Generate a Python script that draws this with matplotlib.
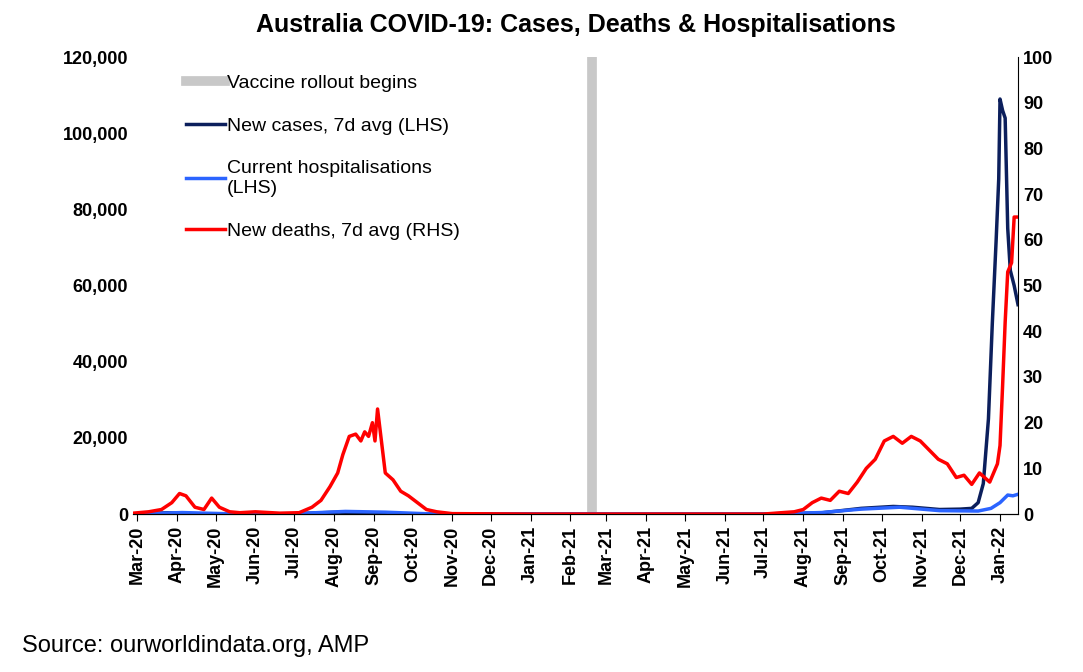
import numpy as np
import pandas as pd
import matplotlib.pyplot as plt
import matplotlib.dates as mdates

plt.rcParams['font.family'] = ['Liberation Sans', 'DejaVu Sans']

# new deaths, 7d avg (RHS)
death_dates = ['2020-02-27', '2020-03-10', '2020-03-20', '2020-03-28', '2020-04-03', '2020-04-08',
               '2020-04-15', '2020-04-22', '2020-04-28', '2020-05-04', '2020-05-12', '2020-05-20',
               '2020-06-01', '2020-06-20', '2020-07-05', '2020-07-15', '2020-07-22', '2020-07-29',
               '2020-08-04', '2020-08-08', '2020-08-13', '2020-08-18', '2020-08-22', '2020-08-25',
               '2020-08-28', '2020-08-31', '2020-09-02', '2020-09-04', '2020-09-07', '2020-09-10',
               '2020-09-16', '2020-09-22', '2020-09-28', '2020-10-05', '2020-10-12', '2020-10-20',
               '2020-11-01', '2021-01-01', '2021-04-01', '2021-07-01', '2021-07-15', '2021-07-25',
               '2021-08-01', '2021-08-08', '2021-08-15', '2021-08-22', '2021-08-29', '2021-09-05',
               '2021-09-12', '2021-09-19', '2021-09-26', '2021-10-03', '2021-10-10', '2021-10-17',
               '2021-10-24', '2021-10-31', '2021-11-07', '2021-11-14', '2021-11-21', '2021-11-28',
               '2021-12-04', '2021-12-10', '2021-12-16', '2021-12-20', '2021-12-24', '2021-12-27',
               '2021-12-30', '2022-01-01', '2022-01-03', '2022-01-05', '2022-01-07', '2022-01-10',
               '2022-01-12', '2022-01-15']
death_vals = [0.2, 0.5, 1.0, 2.5, 4.5, 4.0, 1.5, 1.0, 3.5, 1.5, 0.5, 0.3,
              0.5, 0.2, 0.3, 1.5, 3.0, 6.0, 9.0, 13.0, 17.0, 17.5, 16.0, 18.0,
              17.0, 20.0, 16.0, 23.0, 16.0, 9.0, 7.5, 5.0, 4.0, 2.5, 1.0, 0.5,
              0.1, 0.0, 0.0, 0.0, 0.3, 0.5, 1.0, 2.5, 3.5, 3.0, 5.0, 4.5,
              7.0, 10.0, 12.0, 16.0, 17.0, 15.5, 17.0, 16.0, 14.0, 12.0, 11.0, 8.0,
              8.5, 6.5, 9.0, 8.0, 7.0, 9.0, 11.0, 15.0, 28.0, 42.0, 53.0, 55.0,
              65.0, 65.0]

# new cases, 7d avg (LHS)
case_dates = ['2020-02-27', '2020-03-25', '2020-04-15', '2020-07-01', '2020-08-05', '2020-08-25',
              '2020-10-01', '2021-07-01', '2021-08-15', '2021-09-15', '2021-10-10', '2021-10-25',
              '2021-11-15', '2021-12-01', '2021-12-10', '2021-12-15', '2021-12-19', '2021-12-23',
              '2021-12-26', '2021-12-29', '2021-12-31', '2022-01-01', '2022-01-03', '2022-01-05',
              '2022-01-07', '2022-01-09', '2022-01-12', '2022-01-15']
case_vals = [0, 350, 50, 100, 500, 300, 20, 10, 300, 1500, 2000, 1800,
             1200, 1300, 1500, 3000, 8000, 25000, 50000, 72000, 88000, 109000, 106000, 104000,
             75000, 64000, 60000, 55000]

# current hospitalisations (LHS)
hosp_dates = ['2020-02-27', '2020-04-05', '2020-05-15', '2020-07-01', '2020-08-10', '2020-09-10',
              '2020-10-15', '2021-07-01', '2021-08-15', '2021-09-15', '2021-10-15', '2021-11-15',
              '2021-12-15', '2021-12-25', '2022-01-01', '2022-01-07', '2022-01-11', '2022-01-15']
hosp_vals = [0, 400, 50, 100, 700, 500, 50, 20, 400, 1300, 1800, 900,
             800, 1500, 3000, 5000, 4800, 5200]

vaccine_date = '2021-02-18'

fig, ax = plt.subplots(figsize=(10.83, 6.72), dpi=100)
ax2 = ax.twinx()

ax.axvline(pd.Timestamp(vaccine_date), color='#c8c8c8', lw=7, label='Vaccine rollout begins')
ax.plot(pd.to_datetime(case_dates), case_vals, color='#0c1f5c', lw=2.5, label='New cases, 7d avg (LHS)')
ax.plot(pd.to_datetime(hosp_dates), hosp_vals, color='#2b64ff', lw=2.5, label='Current hospitalisations\n(LHS)')
ax2.plot(pd.to_datetime(death_dates), death_vals, color='#ff0000', lw=2.5, label='New deaths, 7d avg (RHS)')

ax.set_ylim(0, 120000)
ax2.set_ylim(0, 100)
ax.set_xlim(pd.Timestamp('2020-02-27'), pd.Timestamp('2022-01-15'))
ax.set_yticks(np.arange(0, 120001, 20000))
ax.set_yticklabels([f'{v:,}' for v in range(0, 120001, 20000)])
ax2.set_yticks(np.arange(0, 101, 10))
ax.xaxis.set_major_locator(mdates.MonthLocator())
ax.xaxis.set_major_formatter(mdates.DateFormatter('%b-%y'))
for a in (ax, ax2):
    for lab in a.get_xticklabels() + a.get_yticklabels():
        lab.set_fontweight('bold')
        lab.set_fontsize(13)
    a.spines['top'].set_visible(False)
for lab in ax.get_xticklabels():
    lab.set_rotation(90)
ax.tick_params(axis='x', direction='out', length=5)
ax.tick_params(axis='y', length=0)
ax2.tick_params(axis='y', length=0)
ax.spines['left'].set_visible(False)
ax2.spines['left'].set_visible(False)
ax2.spines['right'].set_visible(False)

h1, l1 = ax.get_legend_handles_labels()
h2, l2 = ax2.get_legend_handles_labels()
ax.legend(h1 + h2, l1 + l2, loc='upper left', bbox_to_anchor=(0.04, 1.0), frameon=False,
          fontsize=14, handlelength=2.0, handletextpad=0.1, labelspacing=1.3)

ax.set_title('Australia COVID-19: Cases, Deaths & Hospitalisations', fontsize=18,
             fontweight='bold', pad=18)
fig.text(0.02, 0.03, 'Source: ourworldindata.org, AMP', fontsize=17)
fig.subplots_adjust(left=0.123, right=0.94, top=0.915, bottom=0.235)
plt.savefig('out.png')
